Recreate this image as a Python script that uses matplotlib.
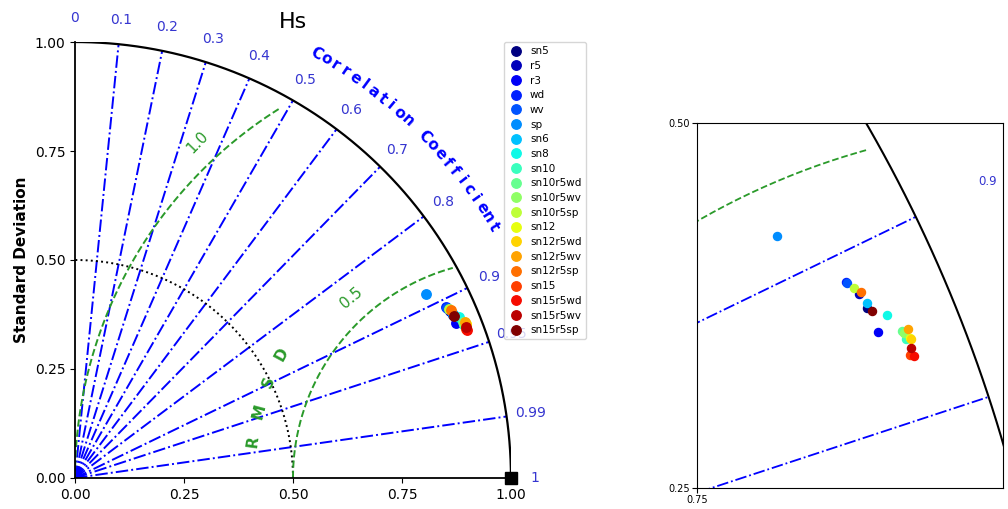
"""
Taylor diagram for Hs with a zoomed panel of the model cluster.
"""

import numpy as np
import matplotlib.pyplot as plt

# model runs: normalised standard deviation and correlation with observations
names = ["sn5", "r5", "r3", "wd", "wv", "sp", "sn6", "sn8", "sn10",
         "sn10r5wd", "sn10r5wv", "sn10r5sp", "sn12", "sn12r5wd", "sn12r5wv",
         "sn12r5sp", "sn15", "sn15r5wd", "sn15r5wv", "sn15r5sp"]
std_dev = [0.9434, 0.9424, 0.9438, 0.9375, 0.9378, 0.9087, 0.9447, 0.9541, 0.9599,
           0.9599, 0.9600, 0.9411, 0.9629, 0.9634, 0.9637, 0.9443, 0.9588, 0.9612,
           0.9611, 0.9460]
corr = [0.9183, 0.9138, 0.9259, 0.9088, 0.9092, 0.8853, 0.9170, 0.9225, 0.9304,
        0.9280, 0.9287, 0.9115, 0.9305, 0.9308, 0.9282, 0.9133, 0.9346, 0.9353,
        0.9331, 0.9199]

ref_std = 1.0
corr_lines = [0.1, 0.2, 0.3, 0.4, 0.5, 0.6, 0.7, 0.8, 0.9, 0.95, 0.99]
corr_labels = [0, 0.1, 0.2, 0.3, 0.4, 0.5, 0.6, 0.7, 0.8, 0.9, 0.95, 0.99, 1]
rms_levels = [0.5, 1.0]
std_ticks = [0.0, 0.25, 0.5, 0.75, 1.0]

colors = plt.cm.jet(np.linspace(0, 1, len(names)))
GREEN = '#2a9a2a'
LBLUE = '#3535d0'


def draw_diagram(ax, ms, lw, label_fs, lims=None):
    # 相关系数射线
    for c in corr_lines:
        th = np.arccos(c)
        ax.plot([0, ref_std * np.cos(th)], [0, ref_std * np.sin(th)],
                '-.', color='blue', lw=lw)
    for c in corr_labels:
        th = np.arccos(c)
        tx, ty = 1.055 * np.cos(th), 1.055 * np.sin(th)
        if lims is not None:
            (x0, x1), (y0, y1) = lims
            if not (x0 < tx < x1 - 0.01 and y0 < ty < y1):
                continue
        ax.text(tx, ty, str(c), color=LBLUE, fontsize=label_fs,
                ha='center', va='center')

    # 外弧和参考标准差弧
    th = np.linspace(0, np.pi / 2, 300)
    ax.plot(np.cos(th), np.sin(th), 'k-', lw=lw + 0.2)
    ax.plot(0.5 * np.cos(th), 0.5 * np.sin(th), 'k:', lw=lw)

    # RMSD 等值线 (以参考点为圆心)
    ends = [1.0, 2.2]
    for rr, off in zip(rms_levels, ends):
        phi_end = np.arccos(-rr / 2) + np.radians(off)
        phi = np.linspace(np.pi, phi_end, 200)
        ax.plot(ref_std + rr * np.cos(phi), rr * np.sin(phi), '--',
                color=GREEN, lw=lw)

    for i, name in enumerate(names):
        th = np.arccos(corr[i])
        ax.plot(std_dev[i] * np.cos(th), std_dev[i] * np.sin(th), 'o',
                color=colors[i], ms=ms, label=name, zorder=5)


fig = plt.figure(figsize=(10.08, 5.09), dpi=100)

# 主图
ax = fig.add_axes([0.0744, 0.0609, 0.4325, 0.8566])
draw_diagram(ax, ms=6.8, lw=1.4, label_fs=10)
ax.plot(ref_std, 0, 's', color='black', ms=9, clip_on=False, zorder=6)

ax.set_xlim(0, 1)
ax.set_ylim(0, 1)
ax.set_aspect('equal')
ax.set_xticks(std_ticks)
ax.set_yticks(std_ticks)
ax.set_xticklabels([f"{v:.2f}" for v in std_ticks])
ax.set_yticklabels([f"{v:.2f}" for v in std_ticks])
ax.tick_params(labelsize=10)
ax.spines['top'].set_visible(False)
ax.spines['right'].set_visible(False)
ax.spines['left'].set_linewidth(1.3)
ax.spines['bottom'].set_linewidth(1.3)
ax.set_ylabel("Standard Deviation", fontsize=11, fontweight='bold')
ax.set_title("Hs", fontsize=16, pad=10)

# 等值线标签
for rr, ang, rot in zip(rms_levels, [131.5, 133.0], [40, 46]):
    a = np.radians(ang)
    ax.text(ref_std + (rr + 0.053) * np.cos(a), (rr + 0.053) * np.sin(a),
            f"{rr:.1f}", color=GREEN, fontsize=11, rotation=rot,
            ha='center', va='center')

# RMSD 文字沿圆弧
for k, ch in enumerate("RMSD"):
    phi = np.radians(172 - 6.8 * k)
    ax.text(ref_std + 0.597 * np.cos(phi), 0.597 * np.sin(phi), ch,
            color=GREEN, fontsize=11, fontweight='bold',
            rotation=np.degrees(phi) - 90, ha='center', va='center')

# Correlation Coefficient 文字沿圆弧
for k, ch in enumerate("Correlation Coefficient"):
    th = np.radians(60.4 - 1.34 * k)
    ax.text(1.12 * np.cos(th), 1.12 * np.sin(th), ch, color='blue',
            fontsize=11, fontweight='bold', rotation=np.degrees(th) - 90,
            ha='center', va='center', clip_on=False)

ax.legend(loc='upper left', bbox_to_anchor=(0.984, 1.0), borderaxespad=0,
          fontsize=7.5, numpoints=1, labelspacing=0.45, handletextpad=0.6,
          handlelength=1.5)

# 放大图
zoom_x = (0.75, 0.9597)
zoom_y = (0.25, 0.5)
ax2 = fig.add_axes([0.6918, 0.0418, 0.303, 0.716])
draw_diagram(ax2, ms=5.8, lw=1.3, label_fs=8.5, lims=(zoom_x, zoom_y))
ax2.set_aspect('equal')
ax2.set_xticks(std_ticks)
ax2.set_yticks(std_ticks)
ax2.set_xticklabels([f"{v:.2f}" for v in std_ticks])
ax2.set_yticklabels([f"{v:.2f}" for v in std_ticks])
ax2.set_xlim(*zoom_x)
ax2.set_ylim(*zoom_y)
ax2.tick_params(labelsize=7, pad=2)

plt.savefig("out.png", dpi=100)
plt.close()
